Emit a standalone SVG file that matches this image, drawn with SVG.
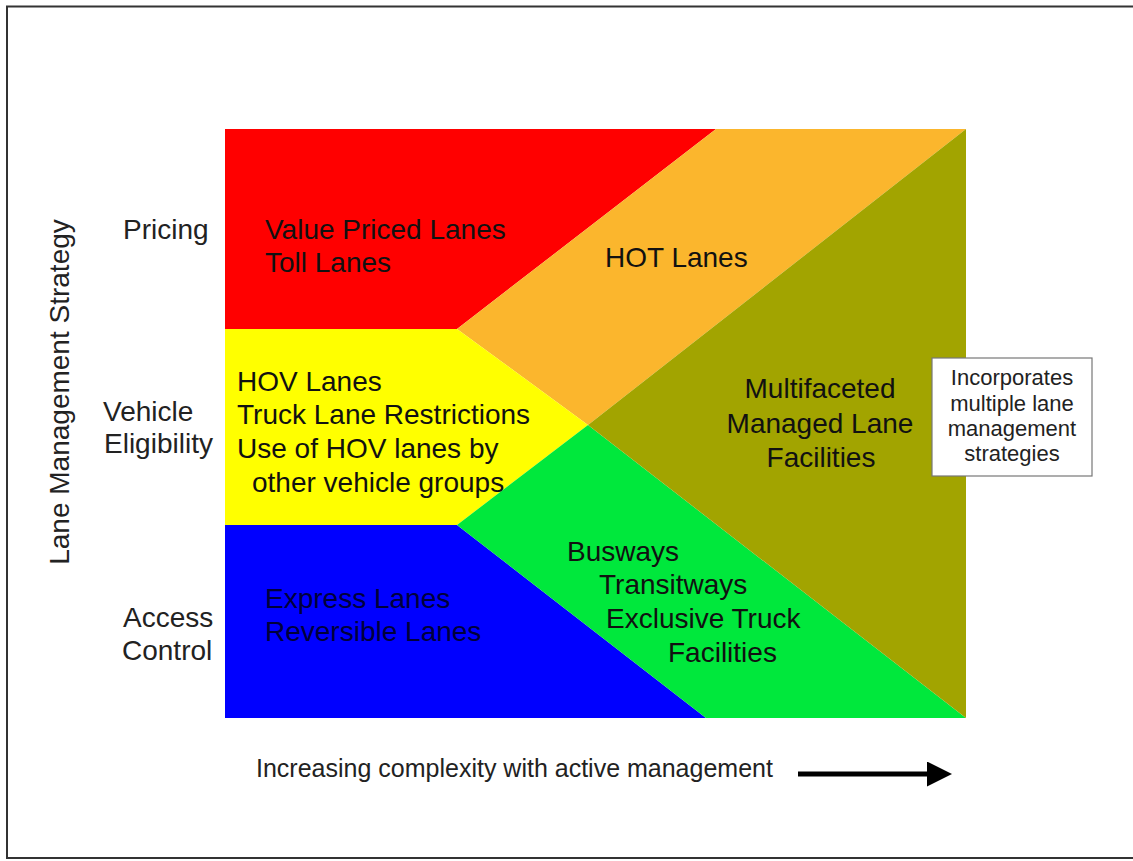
<svg xmlns="http://www.w3.org/2000/svg" width="1133" height="861" viewBox="0 0 1133 861">
<defs>
<style>
text{font-family:"Liberation Sans",Arial,sans-serif;fill:#111;}
.big{font-size:28px;}
.lbl{font-size:28px;fill:#222;}
.note{font-size:22px;fill:#222;text-anchor:middle;}
.mid{text-anchor:middle;}
</style>
<marker id="ah" markerWidth="5" markerHeight="5" refX="0.2" refY="2.5" orient="auto" markerUnits="strokeWidth">
<path d="M0,0 L5,2.5 L0,5 Z" fill="#000"/>
</marker>
</defs>
<rect x="0" y="0" width="1133" height="861" fill="#fff"/>
<path d="M1133,6.5 H7 V858 H1133" fill="none" stroke="#333" stroke-width="2"/>

<g id="regions">
<polygon id="pricing" points="225,129 716,129 457,329 225,329" fill="#FF0000"/>
<polygon id="hot" points="716,129 966,129 588,425 457,329" fill="#FBB62D"/>
<polygon id="eligibility" points="225,329 457,329 588,425 457,525 225,525" fill="#FFFF00"/>
<polygon id="access" points="225,525 457,525 706,718 225,718" fill="#0000FF"/>
<polygon id="transit" points="457,525 588,425 966,718 706,718" fill="#00E83C"/>
<polygon id="multi" points="966,129 966,718 588,425" fill="#A2A400"/>
</g>

<g id="row-labels">
<text class="lbl" x="123" y="239">Pricing</text>
<text class="lbl" x="103" y="421">Vehicle</text>
<text class="lbl" x="104" y="453">Eligibility</text>
<text class="lbl" x="123" y="627">Access</text>
<text class="lbl" x="122" y="660">Control</text>
<text class="lbl" transform="translate(69,392) rotate(-90)" text-anchor="middle" font-size="27.5">Lane Management Strategy</text>
</g>

<g id="node-pricing">
<text class="big" x="265" y="239">Value Priced Lanes</text>
<text class="big" x="265" y="272">Toll Lanes</text>
</g>
<g id="node-hot">
<text class="big" x="605" y="267">HOT Lanes</text>
</g>
<g id="node-eligibility">
<text class="big" x="237" y="391">HOV Lanes</text>
<text class="big" x="237" y="424">Truck Lane Restrictions</text>
<text class="big" x="237" y="458">Use of HOV lanes by</text>
<text class="big" x="252" y="492">other vehicle groups</text>
</g>
<g id="node-access">
<text class="big" x="265" y="608" style="fill:#00003a">Express Lanes</text>
<text class="big" x="265" y="641" style="fill:#00003a">Reversible Lanes</text>
</g>
<g id="node-transit">
<text class="big" x="567" y="561">Busways</text>
<text class="big" x="599" y="594">Transitways</text>
<text class="big" x="606" y="628">Exclusive Truck</text>
<text class="big" x="668" y="662">Facilities</text>
</g>
<g id="node-multi">
<text class="big mid" x="820" y="398">Multifaceted</text>
<text class="big mid" x="820" y="433">Managed Lane</text>
<text class="big mid" x="821" y="467">Facilities</text>
</g>
<g id="node-note">
<rect x="932" y="358" width="160" height="118" fill="#fff" stroke="#777" stroke-width="1.2"/>
<text class="note" x="1012" y="385">Incorporates</text>
<text class="note" x="1012" y="411">multiple lane</text>
<text class="note" x="1012" y="436">management</text>
<text class="note" x="1012" y="461">strategies</text>
</g>

<g id="axis">
<text x="256" y="777" font-size="25" style="fill:#222">Increasing complexity with active management</text>
</g>
<g id="connectors">
<line x1="798" y1="774" x2="928" y2="774" stroke="#000" stroke-width="5" marker-end="url(#ah)"/>
</g>
</svg>
